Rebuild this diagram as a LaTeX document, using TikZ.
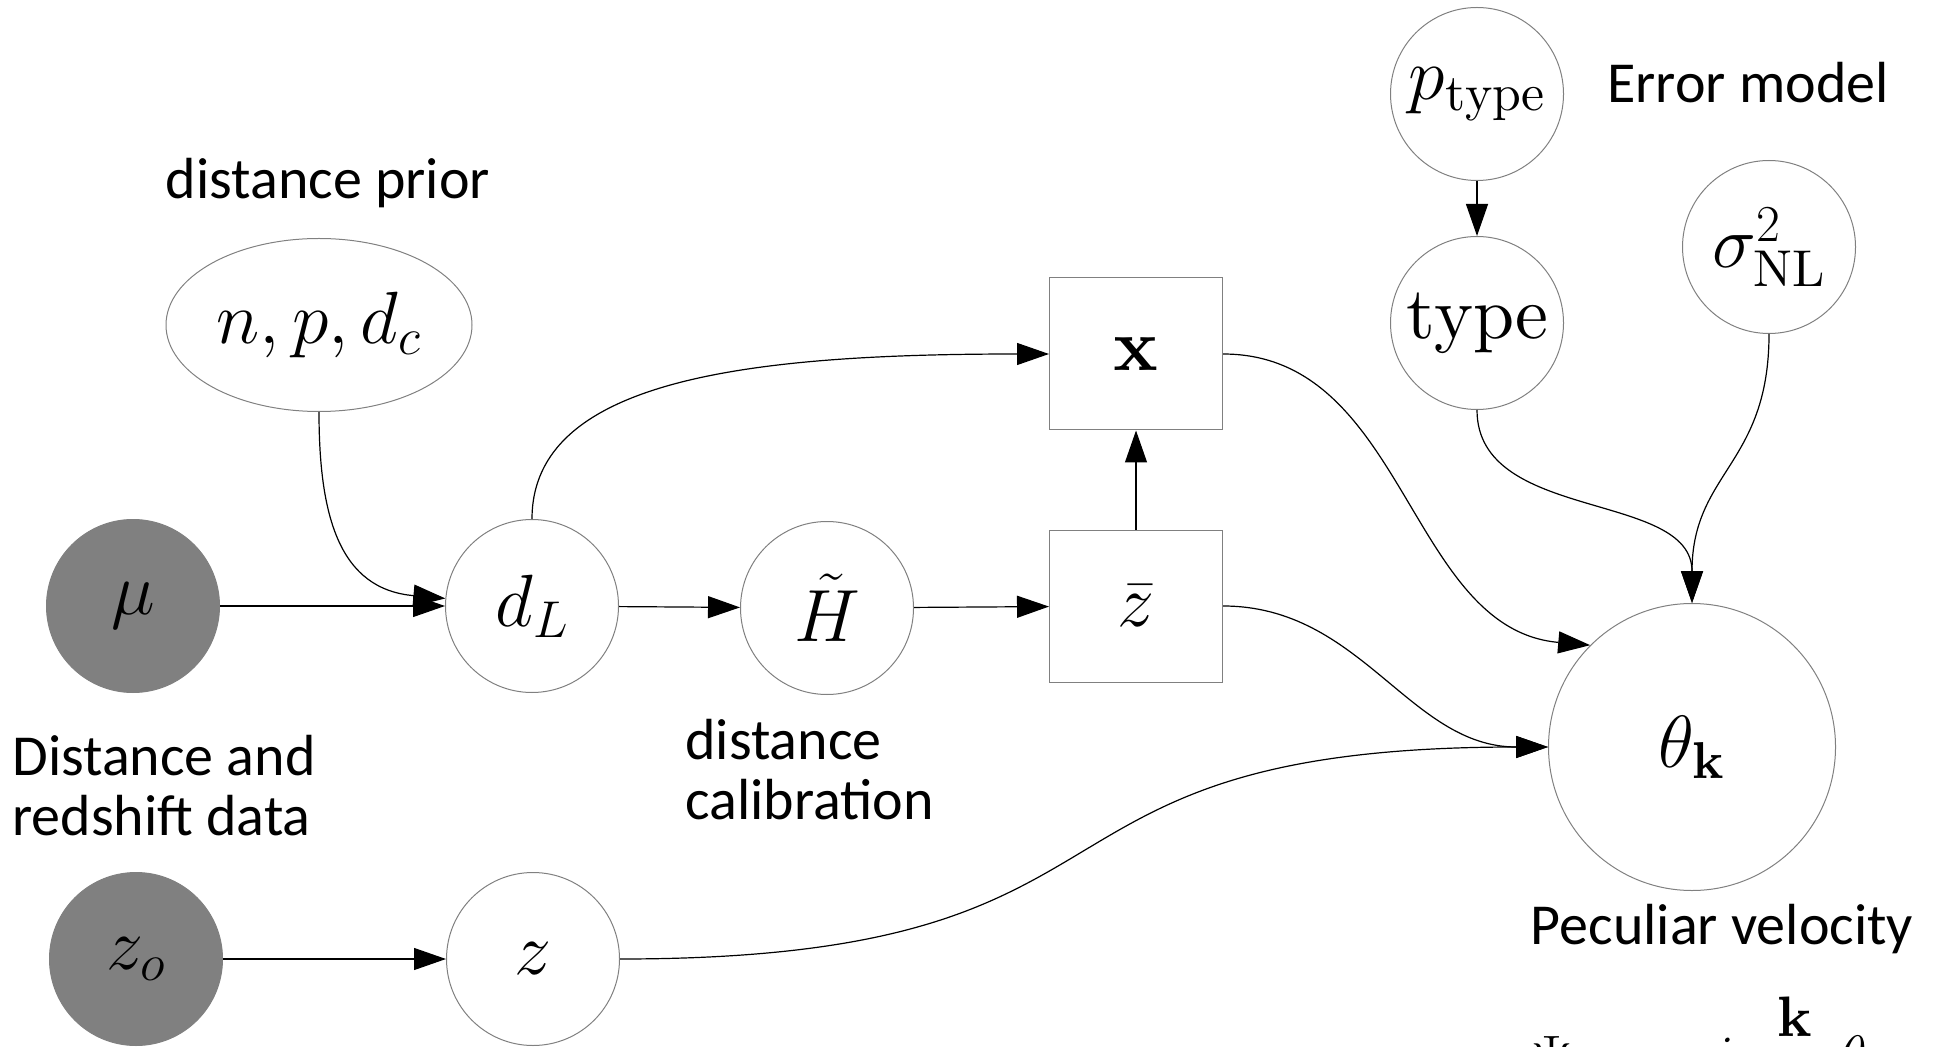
\RequirePackage{fix-cm}
\documentclass[tikz,border=0pt]{standalone}
\usepackage{fontspec}
\setmainfont{lmroman10-regular.otf}[BoldFont=lmroman10-bold.otf,
        ItalicFont=lmroman10-italic.otf,BoldItalicFont=lmroman10-bolditalic.otf]
\setsansfont{Carlito}
\usepackage{amsmath}
\usetikzlibrary{shapes.geometric,arrows.meta}

\begin{document}
\begin{tikzpicture}[x=0.5pt,y=-0.5pt,
        var/.style={circle,draw=gray,line width=0.5pt,inner sep=0pt,minimum size=86.5pt,
                font=\fontsize{37}{40}\selectfont},
        obs/.style={var,fill=gray},
        det/.style={var,rectangle,minimum width=86.5pt,minimum height=76pt},
        lbl/.style={font=\fontsize{29}{30}\selectfont\sffamily,inner sep=0pt,align=left},
        every edge/.style={draw,line width=0.6pt,-{Triangle[length=16pt,width=11pt]}}]
        \useasboundingbox (0,0) rectangle (1936,1047);

        \node[obs] (mu) at (133,606) {$\mu$};
        \node[obs] (zo) at (136,959) {$z_o$};
        \node[var] (dL) at (532,606) {$d_L$};
        \node[var] (z) at (533,959) {$z$};
        \node[var] (Ht) at (827,608) {$\tilde{H}$};
        \node[det] (zb) at (1136,606) {$\bar{z}$};
        \node[det] (x) at (1136,354) {$\mathbf{x}$};
        \node[var,ellipse,minimum width=153pt] (prior) at (319,325) {$n,p,d_c$};
        \node[var] (ptype) at (1477,94) {$p_{\mathrm{type}}$};
        \node[var] (type) at (1477,323) {$\mathrm{type}$};
        \node[var] (sig) at (1769,247) {$\sigma^2_{\mathrm{NL}}$};
        \node[var,minimum size=143.5pt] (th) at (1692,747) {$\theta_{\mathbf{k}}$};

        \node[lbl] (lprior) at (328,183) {distance prior};
        \node[lbl] (lerr) at (1748,83) {Error model};
        \node[lbl,anchor=west] (ldata) at (12,786) {Distance and\\redshift data};
        \node[lbl,anchor=west] (lcal) at (685,770) {distance\\calibration};
        \node[lbl] (lpec) at (1722,929) {Peculiar velocity};
        \node[font=\fontsize{28.5}{30}\selectfont,anchor=base west,inner sep=0pt] (vk) at (1531,1075)
                {$\Psi_{\mathbf{k}} = -i\;\dfrac{\mathbf{k}}{|\mathbf{k}|^2}\theta_{\mathbf{k}}$};

        \path
        (mu) edge (dL)
        (zo) edge (z)
        (dL) edge (Ht)
        (Ht) edge (zb)
        (zb) edge (x)
        (ptype) edge (type)
        (prior) edge[out=-90,in=175,looseness=1.2] (dL)
        (dL) edge[out=90,in=180,out distance=70pt,in distance=150pt] (x)
        (x) edge[out=0,in=175] (th.135)
        (zb) edge[out=0,in=180] (th.west)
        (z) edge[out=0,in=180,looseness=1.5] (th.west)
        (type) edge[out=-90,in=90] (th.north)
        (sig) edge[out=-90,in=90,looseness=1.2] (th.north);
\end{tikzpicture}
\end{document}
